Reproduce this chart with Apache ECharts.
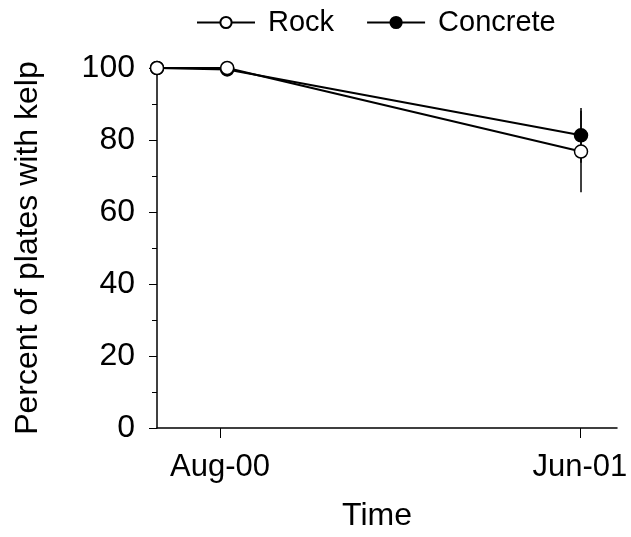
<!DOCTYPE html>
<html>
<head>
<meta charset="utf-8">
<script src="https://cdn.jsdelivr.net/npm/echarts@6/dist/echarts.min.js"></script>
<style>
  html, body { margin: 0; padding: 0; background: #fff; }
  #main { width: 631px; height: 537px; }
</style>
</head>
<body>
<div id="main"></div>
<script>
// months counted from Jun-00
var months = [0.25, 2.2, 12.03];
var rock = [100, 100, 76.8];
var concrete = [100, 99.6, 81.3];
// error bars at Jun-01 [x, low, high]
var rockErr = [[12.03, 65.5, 88.1]];
var concreteErr = [[12.03, 73.7, 88.9]];
var tickMonths = [2, 12];
var tickLabels = ['Aug-00', 'Jun-01'];

var font = 'Liberation Sans, Arial, sans-serif';
var chart = echarts.init(document.getElementById('main'));

function pairs(ys) {
  return months.map(function (m, i) { return [m, ys[i]]; });
}

function errSeries(data) {
  return {
    type: 'custom',
    data: data,
    z: 1,
    silent: true,
    renderItem: function (params, api) {
      var lo = api.coord([api.value(0), api.value(1)]);
      var hi = api.coord([api.value(0), api.value(2)]);
      return {
        type: 'line',
        shape: { x1: lo[0], y1: lo[1], x2: hi[0], y2: hi[1] },
        style: { stroke: '#000', lineWidth: 1.5 }
      };
    }
  };
}

chart.setOption({
  animation: false,
  grid: { left: 157, right: 14, top: 68, bottom: 106 },
  legend: {
    data: ['Rock', 'Concrete'],
    top: 3,
    left: 191,
    itemWidth: 58,
    itemHeight: 14,
    itemGap: 32,
    textStyle: { fontFamily: font, fontSize: 29, color: '#000', padding: [0, 0, 0, 8] }
  },
  xAxis: {
    type: 'value',
    min: 0.25,
    max: 13.03,
    name: 'Time',
    nameLocation: 'middle',
    nameGap: 72,
    nameTextStyle: { fontFamily: font, fontSize: 32, color: '#000', padding: [0, 20, 0, 0] },
    axisLine: { lineStyle: { color: '#000', width: 1.5 } },
    axisTick: { show: true, customValues: tickMonths, length: 10, lineStyle: { color: '#000', width: 1 } },
    axisLabel: {
      customValues: tickMonths,
      margin: 24,
      fontFamily: font, fontSize: 31, color: '#000',
      formatter: function (v) { return tickLabels[tickMonths.indexOf(v)]; }
    },
    splitLine: { show: false }
  },
  yAxis: {
    type: 'value',
    min: 0,
    max: 100,
    interval: 20,
    name: 'Percent of plates with kelp',
    nameLocation: 'middle',
    nameGap: 113,
    nameTextStyle: { fontFamily: font, fontSize: 32, color: '#000' },
    axisLine: { show: true, lineStyle: { color: '#000', width: 1.5 } },
    axisTick: { show: true, length: 8, lineStyle: { color: '#000', width: 1 } },
    minorTick: { show: true, splitNumber: 2, length: 5, lineStyle: { color: '#000', width: 1 } },
    axisLabel: { margin: 22, fontFamily: font, fontSize: 32, color: '#000' },
    splitLine: { show: false }
  },
  series: [
    errSeries(concreteErr),
    errSeries(rockErr),
    {
      name: 'Concrete',
      type: 'line',
      data: pairs(concrete),
      symbol: 'circle',
      symbolSize: 13,
      z: 3,
      lineStyle: { color: '#000', width: 2 },
      itemStyle: { color: '#000', borderColor: '#000', borderWidth: 1.5 }
    },
    {
      name: 'Rock',
      type: 'line',
      data: pairs(rock),
      symbol: 'circle',
      symbolSize: 13,
      z: 4,
      lineStyle: { color: '#000', width: 2 },
      itemStyle: { color: '#fff', borderColor: '#000', borderWidth: 1.5 }
    }
  ]
});
</script>
</body>
</html>
